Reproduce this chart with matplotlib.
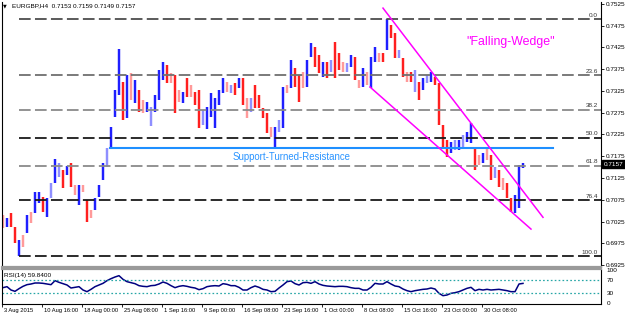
import matplotlib
matplotlib.use("Agg")
import matplotlib.pyplot as plt
import matplotlib.transforms as mtransforms
from matplotlib import font_manager
import numpy as np

# ---- data (one bar ~ 3 H4 candles) ----
highs = [.7040, .7033, .7045, .7012, .6983, .6994, .7040, .7047, .7093, .7093,
         .7081, .7079, .7113, .7168, .7159, .7143, .7152, .7159, .7109, .7109,
         .7109, .7074, .7051, .7079, .7109, .7159, .7194, .7242, .7327, .7421,
         .7345, .7361, .7366, .7350, .7327, .7304, .7299, .7288, .7315, .7373,
         .7391, .7384, .7366, .7361, .7327, .7322, .7354, .7338, .7322, .7327,
         .7281, .7288, .7320, .7308, .7327, .7354, .7345, .7338, .7343, .7354,
         .7354, .7308, .7308, .7338, .7315, .7285, .7274, .7242, .7242, .7258,
         .7334, .7338, .7395, .7377, .7361, .7368, .7395, .7435, .7425, .7407,
         .7391, .7391, .7395, .7437, .7412, .7391, .7389, .7407, .7402, .7350,
         .7377, .7368, .7402, .7425, .7412, .7412, .7489, .7476, .7457, .7418,
         .7400, .7368, .7368, .7373, .7345, .7354, .7361, .7368, .7356, .7343,
         .7246, .7212, .7207, .7212, .7212, .7223, .7230, .7251, .7196, .7178,
         .7182, .7196, .7178, .7150, .7143, .7125, .7113, .7079, .7086, .7155,
         .7159]
lows = [.7010, .7012, .7012, .6976, .6946, .6967, .6999, .7022, .7045, .7067,
        .7047, .7035, .7079, .7113, .7127, .7102, .7132, .7104, .7086, .7063,
        .7093, .7024, .7033, .7051, .7081, .7120, .7150, .7196, .7265, .7315,
        .7258, .7262, .7304, .7297, .7276, .7274, .7276, .7244, .7276, .7304,
        .7350, .7343, .7343, .7274, .7299, .7297, .7311, .7311, .7292, .7240,
        .7246, .7237, .7265, .7240, .7292, .7320, .7322, .7320, .7315, .7331,
        .7292, .7262, .7276, .7285, .7285, .7262, .7228, .7219, .7196, .7230,
        .7240, .7320, .7331, .7334, .7299, .7331, .7334, .7402, .7379, .7366,
        .7356, .7354, .7368, .7354, .7373, .7368, .7368, .7379, .7350, .7331,
        .7334, .7338, .7331, .7391, .7391, .7391, .7418, .7446, .7400, .7400,
        .7356, .7345, .7345, .7322, .7304, .7327, .7343, .7345, .7338, .7246,
        .7196, .7173, .7182, .7189, .7189, .7194, .7207, .7205, .7143, .7155,
        .7159, .7166, .7120, .7125, .7104, .7097, .7079, .7047, .7045, .7056,
        .7149]
# B/b = up bar (dark/light blue), R/r = down bar (dark/light red)
shades = ("rBRRBrBrBBRBbBbRBRrBrR" "rBBBbBBBRBrBRrBbBBBRrR" "rBRrRRbBBBBBrbRBRrbRRR"
          "RrBbBrBRRrBBRRBRbRRrbB" "RrBrBBrRBRRbRrRbRBbBRR" "RRBbBbBBRrBrRbRrRRBBB")
rsi = [47, 50, 40, 36, 44, 51, 56, 58, 61, 61,
       60, 58, 56, 68, 63, 59, 55, 46, 48, 50,
       40, 35, 42, 50, 55, 60, 68, 74, 79, 83,
       72, 65, 62, 59, 53, 51, 50, 53, 54, 58,
       64, 60, 53, 47, 51, 53, 51, 48, 46, 41,
       44, 50, 52, 53, 52, 59, 57, 53, 53, 48,
       40, 40, 47, 52, 48, 42, 40, 35, 36, 46,
       55, 65, 67, 59, 55, 62, 63, 60, 65, 58,
       54, 52, 51, 50, 51, 51, 50, 47, 45, 45,
       40, 40, 48, 60, 58, 58, 65, 58, 52, 50,
       43, 38, 35, 38, 40, 42, 43, 46, 43, 30,
       23, 25, 30, 32, 35, 40, 45, 48, 38, 42,
       40, 42, 40, 41, 42, 40, 38, 35, 35, 58,
       59.84]
time_labels = ["3 Aug 2015", "10 Aug 16:00", "18 Aug 00:00", "25 Aug 08:00",
               "1 Sep 16:00", "9 Sep 00:00", "16 Sep 08:00", "23 Sep 16:00",
               "1 Oct 00:00", "8 Oct 08:00", "15 Oct 16:00", "23 Oct 00:00",
               "30 Oct 08:00"]
price_ticks = [0.7525, 0.7475, 0.7425, 0.7375, 0.7325, 0.7275, 0.7225,
               0.7175, 0.7125, 0.7075, 0.7025, 0.6975, 0.6925]
fib_ratios = [0.0, 23.6, 38.2, 50.0, 61.8, 76.4, 100.0]
last_ohlc = [0.7153, 0.7159, 0.7149, 0.7157]
support_level = 0.7193
support_x = [26.75, 137.5]
wedge_up_x, wedge_up_y = [95, 135], [0.7515, 0.7035]
wedge_lo_x, wedge_lo_y = [91.75, 132], [0.7334, 0.7008]

# ---- fonts ----
names = {f.name for f in font_manager.fontManager.ttflist}
if "Liberation Sans Narrow" in names:
    FONT, k = "Liberation Sans Narrow", 1.0
else:
    FONT, k = "Liberation Sans", 0.85
plt.rcParams["font.family"] = [FONT, "DejaVu Sans"]
plt.rcParams["lines.scale_dashes"] = False
fs = 5.4 * k
fs_x = 4.9 * k

fig = plt.figure(figsize=(6.25, 3.15), dpi=100)
W, H = 625, 315
ax = fig.add_axes([2 / W, 1 - 267 / H, 599 / W, 265 / H])
ax2 = fig.add_axes([2 / W, 1 - 304 / H, 599 / W, 35 / H])

x = np.arange(len(highs))
cmap = {"B": "#1f1fff", "b": "#8f8fff", "R": "#ff1f1f", "r": "#ff9a9a"}
ax.vlines(x, lows, highs, colors=[cmap[c] for c in shades], linewidth=1.75)

# fibonacci retracement from the Aug low to the Oct high
f_hi, f_lo = max(highs), min(lows)
f_start = int(np.argmin(lows))
fib_cols = ["#4d4d4d", "#707070", "#8a8a8a", "#1a1a1a", "#8a8a8a", "#1a1a1a", "#1a1a1a"]
for r, c in zip(fib_ratios, fib_cols):
    lvl = f_hi - r / 100 * (f_hi - f_lo)
    ax.plot([f_start, 149.5], [lvl, lvl], color=c, lw=1.3, ls=(0, (8.4, 3.1)),
            solid_capstyle="butt", dash_capstyle="butt")
    ax.annotate(f"{r:.1f}", (148.75, lvl), xytext=(0, 1.0), textcoords="offset points",
                ha="right", va="bottom", fontsize=fs, color="#333333")

# support turned resistance
ax.plot(support_x, [support_level, support_level], color="#1e8fff", lw=1.5)
ax.text(72.1, 0.7173, "Support-Turned-Resistance", color="#2a94ff",
        fontsize=8.2 * k, ha="center", va="center")

# falling wedge
ax.plot(wedge_up_x, wedge_up_y, color="#ff00ff", lw=1.1)
ax.plot(wedge_lo_x, wedge_lo_y, color="#ff00ff", lw=1.1)
ax.text(127, 0.7437, '"Falling-Wedge"', color="#ff00ff", fontsize=10.5 * k,
        ha="center", va="center")

ax.set_xlim(-0.25, 149.5)
ax.set_ylim(0.6921, 0.7529)
ax.set_xticks([])
ax.yaxis.tick_right()
ax.set_yticks(price_ticks)
ax.set_yticklabels([f"{p:.4f}" for p in price_ticks])
ax.tick_params(axis="y", length=2, width=0.6, pad=1.5, labelsize=fs)
for s in ["left", "right"]:
    ax.spines[s].set_linewidth(0.8)
ax.spines["top"].set_visible(False)
ax.spines["bottom"].set_color("#9a9a9a")
ax.spines["bottom"].set_linewidth(1.6)

# current price box
trans = mtransforms.blended_transform_factory(ax.transAxes, ax.transData)
ax.text(1.004, last_ohlc[3], f"{last_ohlc[3]:.4f}", transform=trans, ha="left",
        va="center", color="white", fontsize=fs,
        bbox=dict(boxstyle="square,pad=0.25", fc="black", ec="black"))

fig.text(3 / W, 1 - 6 / H, "\u25bc", fontsize=3.5, va="center", family="DejaVu Sans")
fig.text(12 / W, 1 - 6 / H,
         "EURGBP,H4  " + " ".join(f"{v:.4f}" for v in last_ohlc),
         fontsize=fs, va="center")

# ---- RSI panel ----
ax2.plot(x, rsi, color="#000080", lw=1.1)
for lvl in (70, 30):
    ax2.axhline(lvl, color="#26a6a6", lw=0.9, ls=(0, (1.2, 1.6)))
ax2.set_xlim(-0.25, 149.5)
ax2.set_ylim(-2, 103)
ax2.yaxis.tick_right()
ax2.set_yticks([100, 70, 30, 0])
ax2.set_yticklabels(["100", "70", "30", "0"])
ax2.tick_params(axis="y", length=0, pad=4, labelsize=fs)
tick_pos = np.arange(len(time_labels)) * 10 - 0.25
ax2.set_xticks(tick_pos)
ax2.set_xticklabels(time_labels, ha="left")
ax2.tick_params(axis="x", length=2.5, width=0.6, pad=0.3, labelsize=fs_x)
shift = mtransforms.ScaledTranslation(1.5 / 100, 0, fig.dpi_scale_trans)
for lab in ax2.get_xticklabels():
    lab.set_transform(lab.get_transform() + shift)
ax2.spines["top"].set_color("#9a9a9a")
ax2.spines["top"].set_linewidth(1.6)
for s in ["left", "right", "bottom"]:
    ax2.spines[s].set_linewidth(0.8)
fig.text(4 / W, 1 - 275 / H, f"RSI(14) {rsi[-1]:.4f}", fontsize=fs, va="center")

fig.savefig("out.png", dpi=100, facecolor="white")
